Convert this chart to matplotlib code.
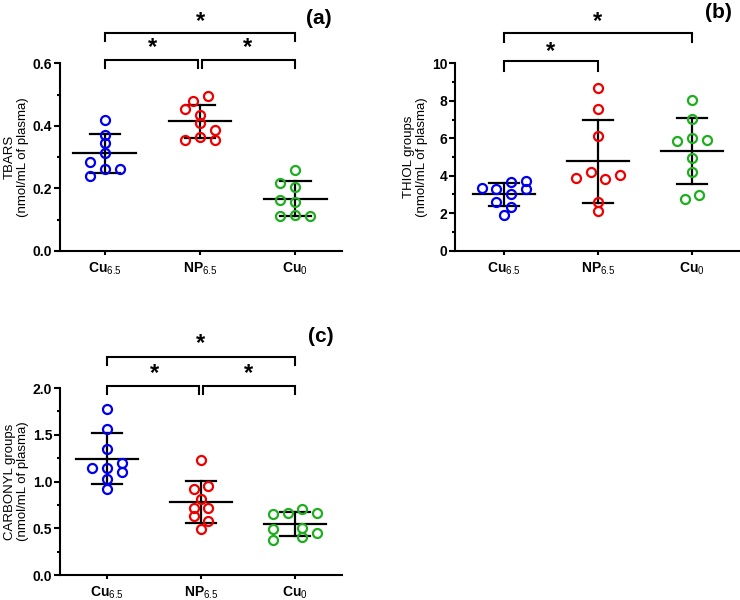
#!/usr/bin/env python3
"""Three-panel scatter (mean +/- SD) of plasma oxidative stress markers."""
import matplotlib.pyplot as plt
import numpy as np

plt.rcParams['font.family'] = ['Liberation Sans', 'DejaVu Sans']
plt.rcParams['mathtext.fontset'] = 'custom'
plt.rcParams['mathtext.rm'] = 'Liberation Sans'
plt.rcParams['mathtext.bf'] = 'Liberation Sans:bold'
plt.rcParams['mathtext.it'] = 'Liberation Sans:italic'

groups = [r'$\mathbf{Cu}_{6.5}$', r'$\mathbf{NP}_{6.5}$', r'$\mathbf{Cu}_{0}$']
colors = ['#0000ee', '#ee0000', '#1fae1f']

# (a) TBARS, nmol/mL of plasma
tbars_cu65 = [0.418, 0.370, 0.346, 0.314, 0.285, 0.240, 0.262, 0.262]
tbars_np65 = [0.479, 0.495, 0.453, 0.434, 0.410, 0.386, 0.354, 0.365, 0.354]
tbars_cu0 = [0.258, 0.218, 0.205, 0.162, 0.157, 0.113, 0.116, 0.112]

# (b) THIOL groups
thiol_cu65 = [3.36, 3.27, 3.66, 3.72, 3.27, 3.01, 2.62, 2.34, 1.91]
thiol_np65 = [8.69, 7.54, 6.14, 3.86, 4.18, 3.81, 4.02, 2.60, 2.11]
thiol_cu0 = [8.02, 7.03, 5.88, 6.02, 5.93, 4.96, 4.19, 2.78, 2.96]

# (c) CARBONYL groups
carb_cu65 = [1.772, 1.559, 1.345, 1.142, 1.142, 1.203, 1.100, 1.025, 0.918]
carb_np65 = [1.231, 0.918, 0.957, 0.811, 0.722, 0.715, 0.633, 0.580, 0.491]
carb_cu0 = [0.651, 0.668, 0.705, 0.668, 0.491, 0.502, 0.455, 0.377, 0.412]

# swarm column of each point (in units of one marker column)
cols_a = [[0, 0, 0, 0, -1, -1, 0, 1],
          [-0.5, 0.5, -1, 0, 0, 1, -1, 0, 1],
          [0, -1, 0, -1, 0, -1, 0, 1]]
cols_b = [[-1.5, -0.5, 0.5, 1.5, 1.5, 0.5, -0.5, 0.5, 0],
          [0, 0, 0, -1.5, -0.5, 0.5, 1.5, 0, 0],
          [0, 0, -1, 0, 1, 0, 0, -0.5, 0.5]]
cols_c = [[0, 0, 0, -1, 0, 1, 1, 0, 0],
          [0, -0.5, 0.5, 0, -0.5, 0.5, -0.5, 0.5, 0],
          [-1.5, -0.5, 0.5, 1.5, -1.5, 0.5, 1.5, -1.5, 0.5]]

COLW = 0.158


def bracket(ax, x1, x2, y, ytick):
    tr = ax.get_xaxis_transform()
    ax.plot([x1, x1, x2, x2], [ytick, y, y, ytick], color='k', lw=1.5,
            transform=tr, clip_on=False, solid_joinstyle='miter')


def star(ax, x, y):
    ax.text(x, y, '*', transform=ax.get_xaxis_transform(), ha='center',
            va='center', fontsize=17, fontweight='bold')


def panel(ax, data, cols, ylim, major, minor, fmt, ylabel, xlim):
    for i, (vals, cc) in enumerate(zip(data, cols)):
        vals = np.array(vals)
        xs = i + np.array(cc) * COLW
        ax.plot(xs, vals, 'o', mfc='none', mec=colors[i], mew=1.6, ms=6.5,
                zorder=3, clip_on=False)
        m, s = vals.mean(), vals.std(ddof=1)
        ax.plot([i - 0.33, i + 0.33], [m, m], color='k', lw=1.6, zorder=2)
        ax.plot([i - 0.16, i + 0.16], [m + s, m + s], color='k', lw=1.6, zorder=2)
        ax.plot([i - 0.16, i + 0.16], [m - s, m - s], color='k', lw=1.6, zorder=2)
        ax.plot([i, i], [m - s, m + s], color='k', lw=1.6, zorder=2)
    ax.set_xlim(xlim)
    ax.set_ylim(ylim)
    ax.set_yticks(major)
    ax.set_yticks(minor, minor=True)
    ax.set_yticklabels([fmt.format(v) for v in major])
    ax.set_xticks(range(3))
    ax.set_xticklabels(groups)
    for sp in ['top', 'right']:
        ax.spines[sp].set_visible(False)
    for sp in ['left', 'bottom']:
        ax.spines[sp].set_linewidth(1.5)
    ax.tick_params(axis='y', which='major', length=4, width=1.5, pad=1.5,
                   labelsize=10)
    ax.tick_params(axis='y', which='minor', length=2.5, width=1.5)
    ax.tick_params(axis='x', length=3, width=1.5, pad=4, labelsize=10)
    for lab in ax.get_yticklabels():
        lab.set_fontweight('bold')
    ax.set_ylabel(ylabel, fontsize=9.5, labelpad=3, linespacing=1.1)


fig = plt.figure(figsize=(7.4, 6.0), dpi=100)

ax_a = fig.add_axes([60 / 740, 349 / 600, 282 / 740, 187.7 / 600])
panel(ax_a, [tbars_cu65, tbars_np65, tbars_cu0], cols_a, (0, 0.6),
      [0, 0.2, 0.4, 0.6], np.arange(0.1, 0.6, 0.2), '{:.1f}',
      'TBARS\n(nmol/mL of plasma)', (-0.47, 2.49))
bracket(ax_a, 0, 2, 1.160, 1.119)
bracket(ax_a, 0, 0.975, 1.0176, 0.975)
bracket(ax_a, 1.025, 2, 1.0176, 0.975)
star(ax_a, 1, 1.222)
star(ax_a, 0.5, 1.082)
star(ax_a, 1.5, 1.082)
fig.text(319 / 740, 1 - 19 / 600, '(a)', ha='center', va='center',
         fontsize=15, fontweight='bold')

ax_b = fig.add_axes([455 / 740, 349.3 / 600, 285 / 740, 187.4 / 600])
panel(ax_b, [thiol_cu65, thiol_np65, thiol_cu0], cols_b, (0, 10),
      [0, 2, 4, 6, 8, 10], np.arange(1, 10, 2), '{:d}',
      'THIOL groups\n(nmol/mL of plasma)', (-0.52, 2.51))
bracket(ax_b, 0, 2, 1.160, 1.114)
bracket(ax_b, 0, 1, 1.012, 0.959)
star(ax_b, 1, 1.222)
star(ax_b, 0.5, 1.065)
fig.text(718 / 740, 1 - 12 / 600, '(b)', ha='center', va='center',
         fontsize=15, fontweight='bold')

ax_c = fig.add_axes([60 / 740, 24.7 / 600, 282 / 740, 187.3 / 600])
panel(ax_c, [carb_cu65, carb_np65, carb_cu0], cols_c, (0, 2.0),
      [0, 0.5, 1.0, 1.5, 2.0], np.arange(0.25, 2.0, 0.5), '{:.1f}',
      'CARBONYL groups\n(nmol/mL of plasma)', (-0.5, 2.5))
bracket(ax_c, 0, 2, 1.167, 1.123)
bracket(ax_c, 0, 0.975, 1.011, 0.968)
bracket(ax_c, 1.025, 2, 1.011, 0.968)
star(ax_c, 1, 1.237)
star(ax_c, 0.5, 1.077)
star(ax_c, 1.5, 1.077)
fig.text(321 / 740, 1 - 337 / 600, '(c)', ha='center', va='center',
         fontsize=15, fontweight='bold')

fig.savefig('out.png', dpi=100)
